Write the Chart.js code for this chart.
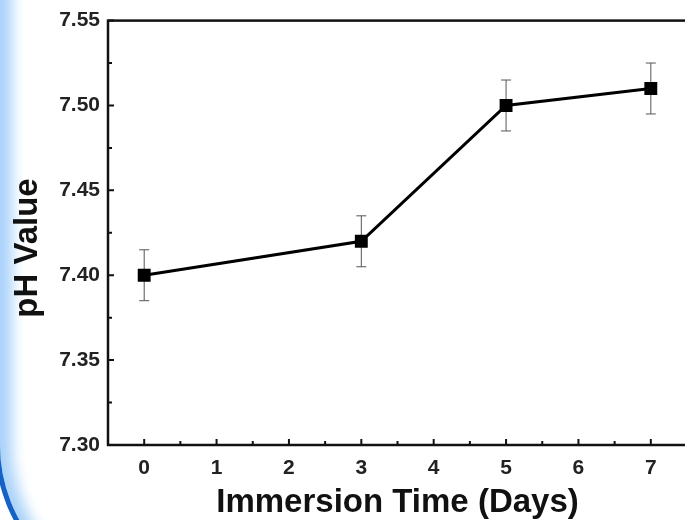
<!DOCTYPE html>
<html>
<head>
<meta charset="utf-8">
<script src="https://cdn.jsdelivr.net/npm/chart.js@4.4.1/dist/chart.umd.min.js"></script>
<style>
  html, body { margin: 0; padding: 0; background: #fff; overflow: hidden; }
  #wrap { position: relative; width: 700px; height: 520px; }
  #deco {
    position: absolute; left: -5px; top: -300px; width: 1000px; height: 905px;
    border: 5px solid #1462c8; border-radius: 160px; box-sizing: border-box;
    box-shadow: inset 14px 0 14px -2px #a9d2fa; pointer-events: none;
  }
  #radarChart { position: absolute; left: 0; top: 0; }
</style>
</head>
<body>
<div id="wrap">
  <div id="deco"></div>
  <canvas id="radarChart"></canvas>
</div>
<script>
// data
const days = [0, 3, 5, 7];
const phValues = [7.40, 7.42, 7.50, 7.51];
const phErrors = [0.015, 0.015, 0.015, 0.015];
const xTicks = [0, 1, 2, 3, 4, 5, 6, 7];
const yTicks = [7.30, 7.35, 7.40, 7.45, 7.50, 7.55];
const yTitle = 'pH Value';

const fontFam = "'Liberation Sans', Arial, sans-serif";

// error bars, frame, inward ticks and the y title
const framePlugin = {
  id: 'frame',
  beforeDatasetsDraw(chart) {
    const ctx = chart.ctx;
    const xs = chart.scales.x, ys = chart.scales.y;
    ctx.save();
    ctx.strokeStyle = '#555';
    ctx.lineWidth = 1;
    days.forEach((d, i) => {
      const px = xs.getPixelForValue(d);
      const top = ys.getPixelForValue(phValues[i] + phErrors[i]);
      const bot = ys.getPixelForValue(phValues[i] - phErrors[i]);
      ctx.beginPath();
      ctx.moveTo(px, top); ctx.lineTo(px, bot);
      ctx.moveTo(px - 5, top); ctx.lineTo(px + 5, top);
      ctx.moveTo(px - 5, bot); ctx.lineTo(px + 5, bot);
      ctx.stroke();
    });
    ctx.restore();
  },
  afterDraw(chart) {
    const ctx = chart.ctx;
    const a = chart.chartArea;
    const xs = chart.scales.x, ys = chart.scales.y;
    ctx.save();
    ctx.strokeStyle = '#111';
    ctx.lineWidth = 2.5;
    ctx.strokeRect(a.left, a.top, a.right - a.left, a.bottom - a.top);
    ctx.lineWidth = 2;
    ctx.beginPath();
    xTicks.forEach(v => {
      const px = xs.getPixelForValue(v);
      ctx.moveTo(px, a.bottom); ctx.lineTo(px, a.bottom - 6);
      const pm = xs.getPixelForValue(v + 0.5);
      ctx.moveTo(pm, a.bottom); ctx.lineTo(pm, a.bottom - 4);
    });
    yTicks.forEach((v, i) => {
      const py = ys.getPixelForValue(v);
      ctx.moveTo(a.left, py); ctx.lineTo(a.left + 6, py);
      if (i < yTicks.length - 1) {
        const pm = ys.getPixelForValue(v + 0.025);
        ctx.moveTo(a.left, pm); ctx.lineTo(a.left + 4, pm);
      }
    });
    ctx.stroke();

    // y title, sits a bit below the middle of the axis like the original
    ctx.translate(28, 248);
    ctx.rotate(-Math.PI / 2);
    ctx.fillStyle = '#111';
    ctx.font = 'bold 33px ' + fontFam;
    ctx.textAlign = 'center';
    ctx.textBaseline = 'middle';
    ctx.fillText(yTitle, 0, 0);
    ctx.restore();
  }
};

const ctx = document.getElementById('radarChart').getContext('2d');
const phChart = new Chart(ctx, {
  type: 'line',
  data: {
    datasets: [{
      data: days.map((d, i) => ({ x: d, y: phValues[i] })),
      borderColor: '#000',
      borderWidth: 3,
      pointStyle: 'rect',
      pointRadius: 7,
      pointBackgroundColor: '#000',
      pointBorderColor: '#000',
      tension: 0
    }]
  },
  options: {
    responsive: true,
    maintainAspectRatio: false,
    animation: false,
    layout: { padding: { top: 20, right: 13, left: 0, bottom: 0 } },
    plugins: { legend: { display: false }, tooltip: { enabled: false } },
    scales: {
      x: {
        type: 'linear', min: -0.5, max: 7.5,
        grid: { display: false, drawTicks: false },
        border: { display: false },
        afterBuildTicks: s => { s.ticks = xTicks.map(v => ({ value: v })); },
        afterFit: s => { s.height = 75; },
        ticks: { color: '#222', padding: 11, font: { family: fontFam, size: 21, weight: 'bold' } },
        title: { display: true, text: 'Immersion Time (Days)', color: '#111',
                 padding: { top: 0, bottom: -3 },
                 font: { family: fontFam, size: 33, weight: 'bold' } }
      },
      y: {
        min: 7.30, max: 7.55,
        grid: { display: false, drawTicks: false },
        border: { display: false },
        afterBuildTicks: s => { s.ticks = yTicks.map(v => ({ value: v })); },
        afterFit: s => { s.width = 108; },
        ticks: { color: '#222', padding: 8, callback: v => v.toFixed(2),
                 font: { family: fontFam, size: 21, weight: 'bold' } }
      }
    }
  },
  plugins: [framePlugin]
});
</script>
</body>
</html>
